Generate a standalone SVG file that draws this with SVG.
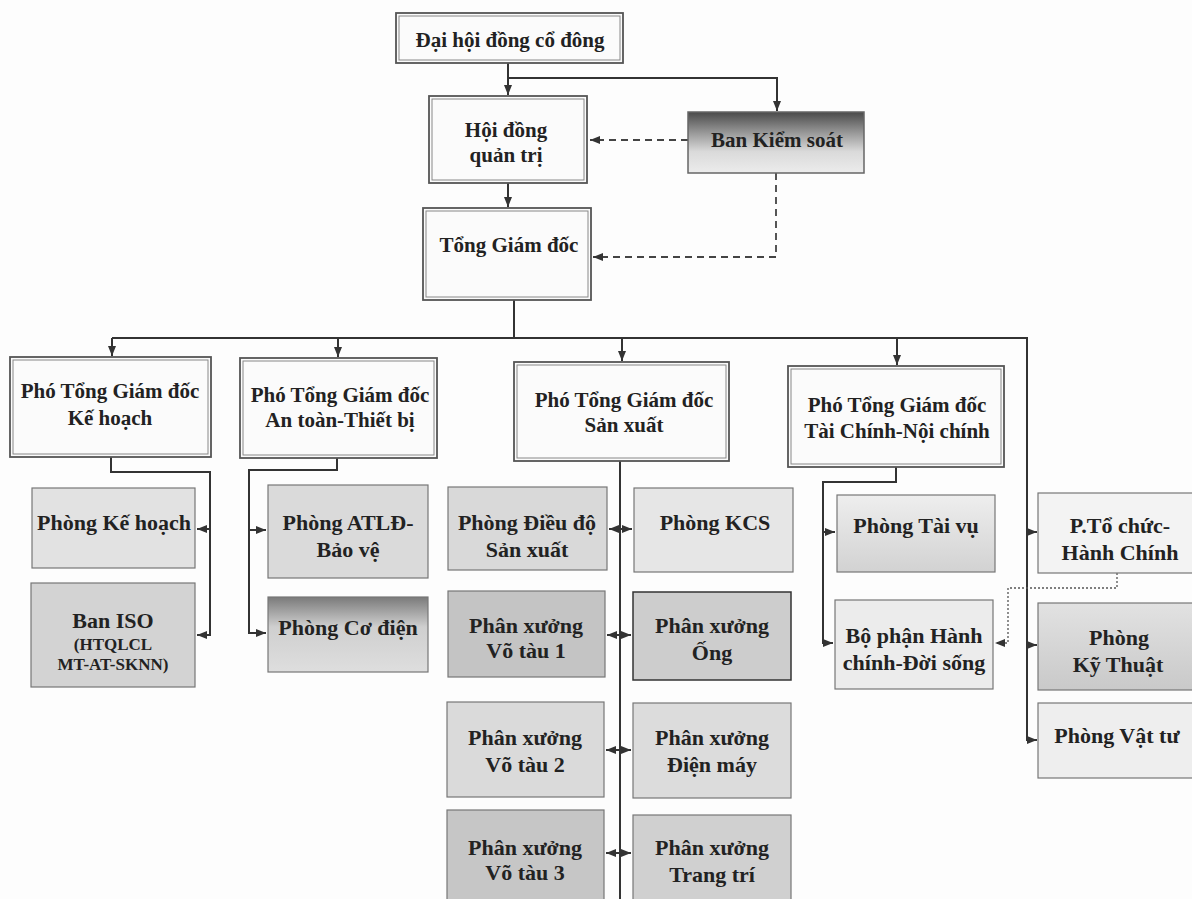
<svg xmlns="http://www.w3.org/2000/svg" width="1192" height="899" viewBox="0 0 1192 899">
<defs>
<marker id="arr" markerUnits="userSpaceOnUse" markerWidth="12" markerHeight="10" refX="10" refY="5" orient="auto-start-reverse"><path d="M0,1 L10,5 L0,9 Z" fill="#333"/></marker>
<linearGradient id="gKS" x1="0" y1="0" x2="0" y2="1"><stop offset="0" stop-color="#4a4a4a"/><stop offset="0.35" stop-color="#9a9a9a"/><stop offset="0.65" stop-color="#dadada"/><stop offset="1" stop-color="#ececec"/></linearGradient>
<linearGradient id="gCD" x1="0" y1="0" x2="0" y2="1"><stop offset="0" stop-color="#7a7a7a"/><stop offset="0.4" stop-color="#cfcfcf"/><stop offset="1" stop-color="#dedede"/></linearGradient>
<linearGradient id="gKT" x1="0" y1="0" x2="0" y2="1"><stop offset="0" stop-color="#e2e2e2"/><stop offset="1" stop-color="#c9c9c9"/></linearGradient>
<linearGradient id="gTV" x1="0" y1="0" x2="0" y2="1"><stop offset="0" stop-color="#eeeeee"/><stop offset="1" stop-color="#d2d2d2"/></linearGradient>
</defs>
<style>
text{font-family:"Liberation Serif","Times New Roman",serif;font-weight:bold;fill:#222;text-anchor:middle}
.t20{font-size:21px}
.t22{font-size:22px}
.t17{font-size:17px}
.main{fill:#fbfbfb;stroke:#555;stroke-width:1.8}
.inner{fill:none;stroke:#888;stroke-width:1}
.sub{stroke:#777;stroke-width:1.2}
.c{fill:none;stroke:#333;stroke-width:2}
.d{fill:none;stroke:#444;stroke-width:1.8;stroke-dasharray:7,5}
.dot{fill:none;stroke:#555;stroke-width:1.3;stroke-dasharray:2,2}
</style>
<rect x="0" y="0" width="1192" height="899" fill="#fdfdfd"/>
<g id="connectors">
<path class="c" d="M508,63 V95" marker-end="url(#arr)"/>
<path class="c" d="M508,78 H777 V111" marker-end="url(#arr)"/>
<path class="c" d="M508,183 V207" marker-end="url(#arr)"/>
<path class="d" d="M688,140 H590" marker-end="url(#arr)"/>
<path class="d" d="M776,173 V257 H593" marker-end="url(#arr)"/>
<path class="c" d="M514,300 V338"/>
<path class="c" d="M112,338 H1027 V740 H1037" marker-end="url(#arr)"/>
<path class="c" d="M112,338 V356" marker-end="url(#arr)"/>
<path class="c" d="M338,338 V357" marker-end="url(#arr)"/>
<path class="c" d="M622,338 V361" marker-end="url(#arr)"/>
<path class="c" d="M897,338 V365" marker-end="url(#arr)"/>
<path class="c" d="M1027,532 H1037" marker-end="url(#arr)"/>
<path class="c" d="M1027,645 H1037" marker-end="url(#arr)"/>
<path class="c" d="M111,457 V472 H210 V635 H197" marker-end="url(#arr)"/>
<path class="c" d="M210,529 H197" marker-end="url(#arr)"/>
<path class="c" d="M337,458 V470 H249 V633 H266" marker-end="url(#arr)"/>
<path class="c" d="M249,530 H266" marker-end="url(#arr)"/>
<path class="c" d="M620,461 V899"/>
<path class="c" d="M609,529 H632" marker-start="url(#arr)" marker-end="url(#arr)"/>
<path class="c" d="M607,635 H631" marker-start="url(#arr)" marker-end="url(#arr)"/>
<path class="c" d="M606,750 H631" marker-start="url(#arr)" marker-end="url(#arr)"/>
<path class="c" d="M606,853 H631" marker-start="url(#arr)" marker-end="url(#arr)"/>
<path class="c" d="M896,467 V482 H823 V643 H833" marker-end="url(#arr)"/>
<path class="c" d="M823,532 H835" marker-end="url(#arr)"/>
<path class="dot" d="M1117,573 V588 H1008 V643 H995" marker-end="url(#arr)"/>
</g>
<g id="dhdcd"><rect class="main" x="396" y="13" width="227" height="50"/><rect class="inner" x="399" y="16" width="221" height="44"/><text class="t20" x="510" y="47">Đại hội đồng cổ đông</text></g>
<g id="hdqt"><rect class="main" x="429" y="96" width="158" height="87"/><rect class="inner" x="432" y="99" width="152" height="81"/><text class="t20" x="506" y="137">Hội đồng</text><text class="t20" x="506" y="162">quản trị</text></g>
<g id="bks"><rect x="688" y="112" width="176" height="61" fill="url(#gKS)" stroke="#666" stroke-width="1.5"/><text class="t20" x="777" y="147">Ban Kiểm soát</text></g>
<g id="tgd"><rect class="main" x="423" y="208" width="168" height="92"/><rect class="inner" x="426" y="211" width="162" height="86"/><text class="t20" x="509" y="252">Tổng Giám đốc</text></g>
<g id="ptgd-kh"><rect class="main" x="10" y="357" width="201" height="100"/><rect class="inner" x="13" y="360" width="195" height="94"/><text class="t20" x="110" y="398">Phó Tổng Giám đốc</text><text class="t20" x="110" y="425">Kế hoạch</text></g>
<g id="ptgd-at"><rect class="main" x="240" y="358" width="197" height="100"/><rect class="inner" x="243" y="361" width="191" height="94"/><text class="t20" x="340" y="402">Phó Tổng Giám đốc</text><text class="t20" x="340" y="427">An toàn-Thiết bị</text></g>
<g id="ptgd-sx"><rect class="main" x="514" y="362" width="215" height="99"/><rect class="inner" x="517" y="365" width="209" height="93"/><text class="t20" x="624" y="407">Phó Tổng Giám đốc</text><text class="t20" x="624" y="432">Sản xuất</text></g>
<g id="ptgd-tc"><rect class="main" x="788" y="366" width="216" height="101"/><rect class="inner" x="791" y="369" width="210" height="95"/><text class="t20" x="897" y="412">Phó Tổng Giám đốc</text><text class="t20" x="897" y="438">Tài Chính-Nội chính</text></g>
<g id="p-kh"><rect class="sub" x="32" y="488" width="163" height="80" fill="#e2e2e2"/><text class="t22" x="114" y="530">Phòng Kế hoạch</text></g>
<g id="ban-iso"><rect class="sub" x="31" y="583" width="164" height="104" fill="#d3d3d3"/><text class="t22" x="113" y="628">Ban ISO</text><text class="t17" x="113" y="650">(HTQLCL</text><text class="t17" x="113" y="670">MT-AT-SKNN)</text></g>
<g id="p-atld"><rect class="sub" x="268" y="485" width="160" height="93" fill="#dadada"/><text class="t22" x="348" y="530">Phòng ATLĐ-</text><text class="t22" x="348" y="557">Bảo vệ</text></g>
<g id="p-cd"><rect class="sub" x="268" y="597" width="160" height="75" fill="url(#gCD)"/><text class="t22" x="348" y="635">Phòng Cơ điện</text></g>
<g id="p-dd"><rect class="sub" x="448" y="487" width="159" height="83" fill="#d9d9d9"/><text class="t22" x="527" y="530">Phòng Điều độ</text><text class="t22" x="527" y="557">Sản xuất</text></g>
<g id="p-kcs"><rect class="sub" x="634" y="488" width="159" height="84" fill="#e6e6e6"/><text class="t22" x="715" y="530">Phòng KCS</text></g>
<g id="px-vt1"><rect class="sub" x="448" y="591" width="157" height="86" fill="#c4c4c4"/><text class="t22" x="526" y="633">Phân xưởng</text><text class="t22" x="526" y="658">Võ tàu 1</text></g>
<g id="px-ong"><rect x="633" y="592" width="158" height="88" fill="#cdcdcd" stroke="#333" stroke-width="1.5"/><text class="t22" x="712" y="633">Phân xưởng</text><text class="t22" x="712" y="660">Ống</text></g>
<g id="px-vt2"><rect class="sub" x="447" y="702" width="157" height="95" fill="#dadada"/><text class="t22" x="525" y="745">Phân xưởng</text><text class="t22" x="525" y="772">Võ tàu 2</text></g>
<g id="px-dm"><rect class="sub" x="633" y="703" width="158" height="95" fill="#dcdcdc"/><text class="t22" x="712" y="745">Phân xưởng</text><text class="t22" x="712" y="772">Điện máy</text></g>
<g id="px-vt3"><rect class="sub" x="447" y="810" width="157" height="100" fill="#c6c6c6"/><text class="t22" x="525" y="855">Phân xưởng</text><text class="t22" x="525" y="880">Võ tàu 3</text></g>
<g id="px-tt"><rect class="sub" x="633" y="815" width="158" height="95" fill="#d0d0d0"/><text class="t22" x="712" y="855">Phân xưởng</text><text class="t22" x="712" y="882">Trang trí</text></g>
<g id="p-tv"><rect class="sub" x="837" y="495" width="158" height="77" fill="url(#gTV)"/><text class="t22" x="916" y="533">Phòng Tài vụ</text></g>
<g id="bp-hc"><rect class="sub" x="835" y="600" width="158" height="89" fill="#ececec"/><text class="t22" x="914" y="643">Bộ phận Hành</text><text class="t22" x="914" y="670">chính-Đời sống</text></g>
<g id="p-tchc"><rect class="sub" x="1038" y="493" width="170" height="80" fill="#f3f3f3"/><text class="t22" x="1120" y="533">P.Tổ chức-</text><text class="t22" x="1120" y="560">Hành Chính</text></g>
<g id="p-kt"><rect class="sub" x="1038" y="603" width="170" height="87" fill="url(#gKT)"/><text class="t22" x="1119" y="645">Phòng</text><text class="t22" x="1118" y="672">Kỹ Thuật</text></g>
<g id="p-vt"><rect class="sub" x="1038" y="703" width="170" height="75" fill="#eeeeee"/><text class="t22" x="1117" y="743">Phòng Vật tư</text></g>
</svg>
